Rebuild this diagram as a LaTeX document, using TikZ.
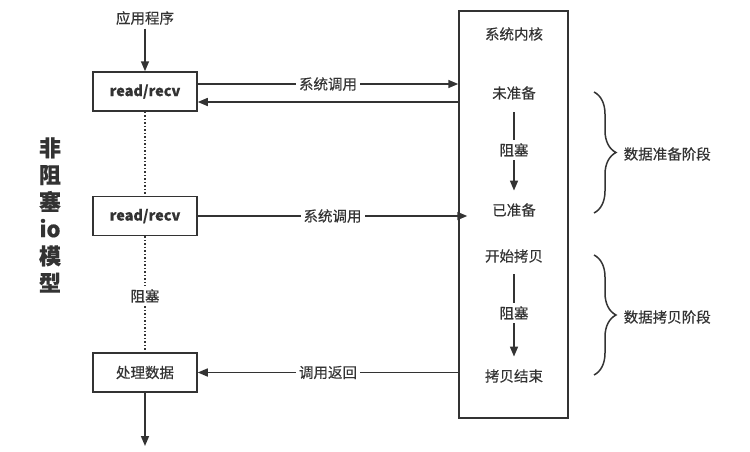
\documentclass[tikz,border=0pt]{standalone}
\usepackage{fontspec}
\setmainfont{Noto Sans CJK SC}[FakeBold=0.35]
\usetikzlibrary{arrows.meta,decorations.pathreplacing}
\definecolor{ink}{HTML}{333333}

\begin{document}
\begin{tikzpicture}[x=1pt, y=1pt, ink, line width=1.5pt,
    box/.style={draw, minimum width=104pt, minimum height=39pt, inner sep=0pt},
    txt/.style={font=\fontsize{14.5}{16}\selectfont, inner sep=3pt},
    arr/.style={-{Triangle[length=10pt,width=8pt]}},
    brc/.style={decorate, decoration={brace, amplitude=22pt}}]
    \useasboundingbox (0,0) rectangle (750,-451);
    % left column
    \node[txt] (app) at (145,-18) {应用程序};
    \node[box, font=\bfseries\fontsize{14.5}{16}\selectfont] (read1) at (145,-91.5) {read/recv};
    \node[box, font=\bfseries\fontsize{14.5}{16}\selectfont] (read2) at (145,-216) {read/recv};
    \node[txt, fill=white] (wait) at (145,-296) {阻塞};
    \node[box, font=\fontsize{14.5}{16}\selectfont] (proc) at (145,-372.5) {处理数据};
    \coordinate (out) at (145,-446);
    \node[font=\bfseries\fontsize{22}{27}\selectfont, align=center] (title) at (50,-215) {非\\阻\\塞\\io\\模\\型};
    % kernel
    \node[draw, minimum width=109pt, minimum height=407pt, inner sep=0pt] (kernel) at (513.5,-214.5) {};
    \node[txt] (kname) at (514,-34) {系统内核};
    \node[txt] (unready) at (514,-93) {未准备};
    \node[txt] (blk1) at (514,-150) {阻塞};
    \node[txt] (ready) at (514,-210) {已准备};
    \node[txt] (cpstart) at (514,-256) {开始拷贝};
    \node[txt] (blk2) at (514,-313) {阻塞};
    \node[txt] (cpend) at (514,-376) {拷贝结束};
    % phases
    \draw[brc] (594,-92) -- (594,-213) coordinate[midway] (b1);
    \draw[brc] (594,-255) -- (594,-375) coordinate[midway] (b2);
    \node[txt, anchor=west] (phase1) at (620,-154) {数据准备阶段};
    \node[txt, anchor=west] (phase2) at (620,-317) {数据拷贝阶段};
    % connectors
    \draw[arr] (app) -- (read1);
    \draw[dotted] (read1) -- (read2);
    \draw[dotted] (read2) -- (wait);
    \draw[dotted] (wait) -- (proc);
    \draw[arr] (proc) -- (out);
    \draw[arr] ([yshift=7.5pt]read1.east) -- ([yshift=7.5pt]read1.east -| kernel.west)
        node[txt, midway, fill=white] {系统调用};
    \draw[arr] ([yshift=-10.5pt]read1.east -| kernel.west) -- ([yshift=-10.5pt]read1.east);
    \draw[arr] (read2.east) -- ([xshift=9pt]read2.east -| kernel.west)
        node[txt, midway, fill=white] {系统调用};
    \draw[arr] (proc.east -| kernel.west) -- (proc.east)
        node[txt, midway, fill=white] {调用返回};
    \draw[shorten <=9pt] (unready) -- (blk1);
    \draw[arr, shorten >=9pt] (blk1) -- (ready);
    \draw[shorten <=8pt] (cpstart) -- (blk2);
    \draw[arr, shorten >=9pt] (blk2) -- (cpend);
\end{tikzpicture}
\end{document}
